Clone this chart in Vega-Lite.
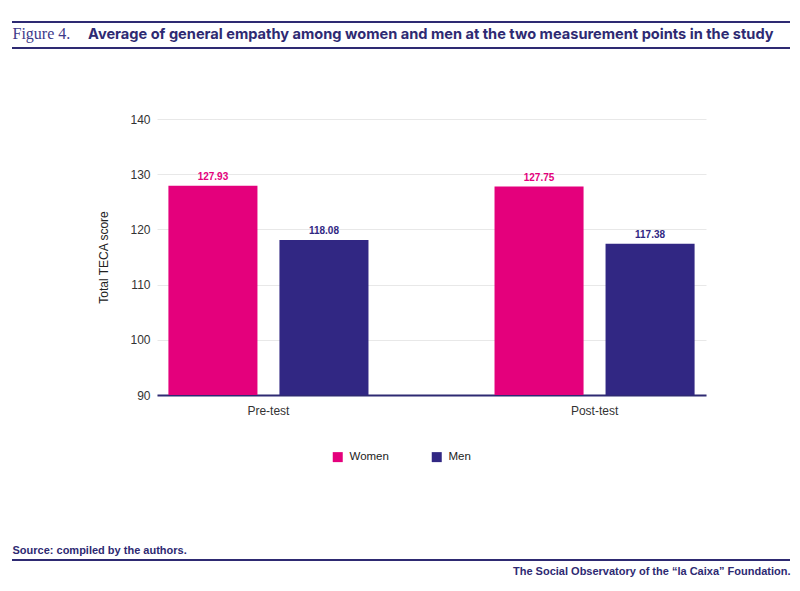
{
  "$schema": "https://vega.github.io/schema/vega-lite/v6.json",
  "width": 549,
  "height": 276,
  "autosize": "none",
  "padding": {"left": 157, "top": 119, "right": 94, "bottom": 196},
  "background": "white",
  "title": {
    "text": "Average of general empathy among women and men at the two measurement points in the  study",
    "anchor": "start",
    "frame": "group",
    "dx": -69,
    "offset": -21,
    "font": "Inter",
    "fontSize": 14.6,
    "fontWeight": "bold",
    "color": "#2e2a72"
  },
  "config": {
    "view": {"stroke": null},
    "axis": {
      "labelFont": "Liberation Sans Narrow, Liberation Sans, sans-serif",
      "titleFont": "Liberation Sans Narrow, Liberation Sans, sans-serif",
      "labelColor": "#333333",
      "titleColor": "#222222",
      "labelFontSize": 12,
      "titleFontSize": 12,
      "titleFontWeight": "normal"
    }
  },
  "data": {
    "values": [
      {"phase": "Pre-test", "sex": "Women", "score": 127.93},
      {"phase": "Pre-test", "sex": "Men", "score": 118.08},
      {"phase": "Post-test", "sex": "Women", "score": 127.75},
      {"phase": "Post-test", "sex": "Men", "score": 117.38}
    ]
  },
  "layer": [
    {
      "mark": {"type": "bar", "clip": true},
      "encoding": {
        "x": {
          "field": "phase", "type": "nominal", "sort": ["Pre-test", "Post-test"],
          "scale": {"paddingInner": 0.3865, "paddingOuter": 0.035},
          "axis": {
            "labelAngle": 0, "ticks": false, "labelPadding": 10,
            "domainColor": "#2e2a72", "domainWidth": 2,
            "title": "Source:  compiled by the authors.",
            "titleX": -145, "titleY": 155, "titleAlign": "left", "titleBaseline": "middle",
            "titleFontWeight": "bold", "titleFontSize": 11, "titleColor": "#2e2a72"
          }
        },
        "xOffset": {
          "field": "sex", "type": "nominal", "sort": ["Women", "Men"],
          "scale": {"paddingInner": 0.198, "paddingOuter": 0}
        },
        "y": {
          "field": "score", "type": "quantitative",
          "scale": {"domain": [90, 140], "zero": false},
          "axis": {
            "values": [90, 100, 110, 120, 130, 140],
            "domain": false, "ticks": false, "labelPadding": 7,
            "gridColor": "#e8e8e8", "gridWidth": 1,
            "title": "Total TECA score", "titlePadding": 19
          }
        },
        "color": {
          "field": "sex", "type": "nominal", "sort": ["Women", "Men"],
          "scale": {"domain": ["Women", "Men"], "range": ["#e4007c", "#312783"]},
          "legend": {
            "orient": "none", "direction": "horizontal", "title": null,
            "legendX": 175, "legendY": 332, "padding": 0,
            "symbolType": "square", "symbolSize": 100, "symbolStrokeWidth": 0,
            "labelOffset": 6, "columnPadding": 42,
            "labelFont": "Liberation Sans Narrow, Liberation Sans, sans-serif",
            "labelFontSize": 11.5, "labelColor": "#222222"
          }
        }
      }
    },
    {
      "mark": {"type": "text", "baseline": "bottom", "dy": -4, "fontWeight": "bold", "fontSize": 10,
               "font": "Liberation Sans Narrow, Liberation Sans, sans-serif"},
      "encoding": {
        "x": {
          "field": "phase", "type": "nominal", "sort": ["Pre-test", "Post-test"],
          "axis": {
            "orient": "top", "labels": false, "ticks": false, "domain": false, "grid": false,
            "title": "The Social Observatory of the “la Caixa” Foundation.",
            "titleX": 633, "titleY": 452, "titleAlign": "right", "titleBaseline": "middle",
            "titleFontWeight": "bold", "titleFontSize": 11, "titleColor": "#2e2a72"
          }
        },
        "xOffset": {"field": "sex", "type": "nominal", "sort": ["Women", "Men"]},
        "y": {
          "field": "score", "type": "quantitative",
          "axis": {
            "orient": "right", "labels": false, "ticks": false, "domain": false, "grid": false,
            "title": "Figure 4.", "titleAngle": 0,
            "titleX": -694, "titleY": -86, "titleAlign": "left", "titleBaseline": "middle",
            "titleFont": "Liberation Serif, DejaVu Serif, serif", "titleFontWeight": "normal",
            "titleFontSize": 16, "titleColor": "#3d3a8a"
          }
        },
        "text": {"field": "score", "type": "quantitative", "format": ".2f"},
        "color": {"field": "sex", "type": "nominal", "sort": ["Women", "Men"]}
      }
    },
    {
      "data": {"values": [{}]},
      "mark": {"type": "rule", "color": "#2e2a72", "strokeWidth": 2},
      "encoding": {"x": {"value": -145}, "x2": {"value": 633}, "y": {"value": -97}}
    },
    {
      "data": {"values": [{}]},
      "mark": {"type": "rule", "color": "#2e2a72", "strokeWidth": 2},
      "encoding": {"x": {"value": -145}, "x2": {"value": 633}, "y": {"value": -71}}
    },
    {
      "data": {"values": [{}]},
      "mark": {"type": "rule", "color": "#2e2a72", "strokeWidth": 2},
      "encoding": {"x": {"value": -145}, "x2": {"value": 633}, "y": {"value": 441}}
    }
  ],
  "resolve": {"axis": {"x": "independent", "y": "independent"}}
}
